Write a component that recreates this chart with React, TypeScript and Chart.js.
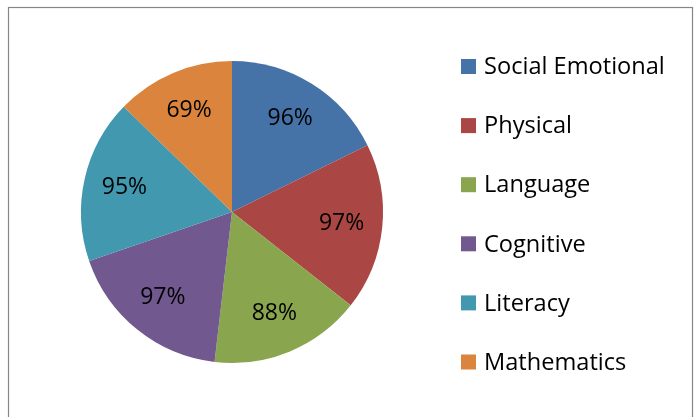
import React, { useEffect, useRef } from "react";
import { Chart, registerables } from "chart.js";

Chart.register(...registerables);

const categories = ["Social Emotional", "Physical", "Language", "Cognitive", "Literacy", "Mathematics"];
const values = [96, 97, 88, 97, 95, 69];
const valueLabels = ["96%", "97%", "88%", "97%", "95%", "69%"];
const colors = ["#4572A7", "#AA4643", "#89A54E", "#71588F", "#4198AF", "#DB843D"];

const FONT = "'Open Sans', 'Liberation Sans', sans-serif";

const framePlugin = {
  id: "frame",
  beforeDraw(chart: any) {
    const ctx = chart.ctx;
    ctx.save();
    ctx.fillStyle = "#ffffff";
    ctx.fillRect(0, 0, chart.width, chart.height);
    ctx.strokeStyle = "#868686";
    ctx.lineWidth = 1.2;
    ctx.strokeRect(8.5, 7.5, 684, 420);
    ctx.restore();
  },
};

const labelPlugin = {
  id: "sliceLabels",
  afterDatasetsDraw(chart: any) {
    const ctx = chart.ctx;
    const meta = chart.getDatasetMeta(0);
    ctx.save();
    ctx.fillStyle = "#000000";
    ctx.font = `23px ${FONT}`;
    ctx.textAlign = "center";
    ctx.textBaseline = "middle";
    meta.data.forEach((arc: any, i: number) => {
      const p = arc.getProps(["x", "y", "startAngle", "endAngle", "outerRadius"], true);
      const mid = (p.startAngle + p.endAngle) / 2;
      const r = p.outerRadius * 0.73;
      ctx.fillText(valueLabels[i], p.x + Math.cos(mid) * r, p.y + Math.sin(mid) * r);
    });
    // legend
    ctx.textAlign = "left";
    ctx.font = `23.6px ${FONT}`;
    const x0 = 461;
    const y0 = 66.5;
    const step = 59.1;
    categories.forEach((c, i) => {
      const y = y0 + i * step;
      ctx.fillStyle = colors[i];
      ctx.fillRect(x0, y - 7.5, 15, 15);
      ctx.fillStyle = "#000000";
      ctx.fillText(c, x0 + 23, y + 1);
    });
    ctx.restore();
  },
};

export default function App() {
  const ref = useRef<HTMLCanvasElement>(null);
  useEffect(() => {
    const chart = new Chart(ref.current as HTMLCanvasElement, {
      type: "pie",
      data: {
        labels: categories,
        datasets: [
          {
            data: values,
            backgroundColor: colors,
            borderWidth: 0,
          },
        ],
      },
      options: {
        animation: false,
        responsive: false,
        maintainAspectRatio: false,
        layout: { padding: { left: 81, right: 316, top: 61, bottom: 54 } },
        plugins: {
          legend: { display: false },
          tooltip: { enabled: false },
          title: { display: false },
        },
      },
      plugins: [framePlugin, labelPlugin],
    });
    return () => chart.destroy();
  }, []);
  return (
    <div style={{ position: "fixed", left: 0, top: 0, width: 699, height: 417 }}>
      <canvas ref={ref} width={699} height={417} style={{ width: 699, height: 417, display: "block" }} />
    </div>
  );
}
